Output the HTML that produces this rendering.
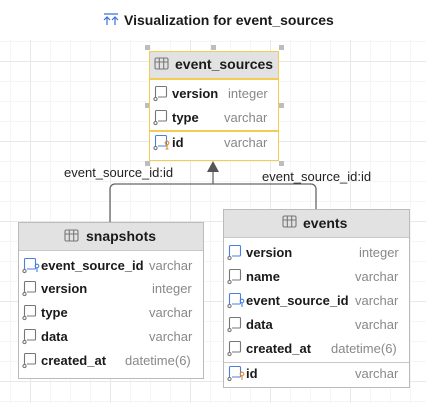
<!DOCTYPE html>
<html><head><style>
body{margin:0;width:426px;height:403px;overflow:hidden;background:#fff;font-family:"Liberation Sans",sans-serif;position:relative}
.grid{position:absolute;left:0;top:40px;width:426px;height:363px;
background-image:linear-gradient(#e8e8e8 1px,transparent 1px),linear-gradient(90deg,#e8e8e8 1px,transparent 1px),linear-gradient(#f5f5f5 1px,transparent 1px),linear-gradient(90deg,#f5f5f5 1px,transparent 1px);
background-size:80px 80px,80px 80px,20px 20px,20px 20px;background-position:0 21px,30px 0,0 1px,10px 0}
.t{position:absolute;font-size:13px;white-space:nowrap;line-height:16px}
.b{font-weight:bold;color:#1a1a1a}
.g{color:#888}
.box{position:absolute;background:#fff;border:1px solid #bbb;box-sizing:border-box}
.hd{position:absolute;left:0;right:0;top:0;background:#e2e2e2;border-bottom:1px solid #c8c8c8}
</style></head><body>
<div class="grid"></div>
<div class="t b" style="left:124px;top:12px;font-size:14px">Visualization for event_sources</div>
<svg style="position:absolute;left:0;top:0" width="426" height="403">
<g stroke="#3a6fd8" stroke-width="1.2" fill="none"><path d="M104 14h14M107 25v-8M104 20l3-3 3 3M115 25v-8M112 20l3-3 3 3"/></g>
<g stroke="#666" stroke-width="1.3" fill="none">
<path d="M213 172v12H115a5 5 0 0 0-5 5v33"/>
<path d="M213 184h98a5 5 0 0 1 5 5v20"/>
</g>
<path d="M207 172l6-11 6 11z" fill="#555"/>
<g fill="#bdbdbd"><rect x="145" y="45" width="5" height="5"/><rect x="211" y="45" width="5" height="5"/><rect x="279" y="45" width="5" height="5"/><rect x="145" y="103" width="5" height="5"/><rect x="279" y="103" width="5" height="5"/><rect x="145" y="161" width="5" height="5"/><rect x="279" y="161" width="5" height="5"/></g>
</svg>
<div class="t" style="left:64px;top:165px;color:#222">event_source_id:id</div>
<div class="t" style="left:262px;top:169px;color:#222">event_source_id:id</div>

<div class="box" style="left:149px;top:51px;width:130px;height:110px;border:1.5px solid #f2cc55">
<div class="hd" style="height:26px;border-bottom:2px solid #f2cc55"></div>
<div style="position:absolute;left:0;right:0;top:78px;border-top:2px solid #f2cc55"></div>
</div>
<div class="box" style="left:18px;top:222px;width:186px;height:157px"><div class="hd" style="height:27px"></div></div>
<div class="box" style="left:223px;top:209px;width:187px;height:179px"><div class="hd" style="height:27px"></div>
<div style="position:absolute;left:0;right:0;top:152px;border-top:1px solid #c8c8c8"></div></div>

<svg style="position:absolute;left:0;top:0" width="426" height="403" fill="none" stroke-width="1.1">
<defs>
<g id="tb" stroke="#777"><rect x="0" y="0" width="13" height="11" rx="1.5"/><path d="M0 4h13M4.3 0v11M8.7 0v11"/></g>
<g id="col" stroke="#777"><path d="M2.5 12V1.5a1 1 0 0 1 1-1h9a1 1 0 0 1 1 1v8.5a1 1 0 0 1-1 1H5"/><circle cx="2.5" cy="13" r="1.6"/></g>
<g id="colb" stroke="#4a7fe0"><path d="M2.5 12V1.5a1 1 0 0 1 1-1h9a1 1 0 0 1 1 1v8.5a1 1 0 0 1-1 1H5"/><circle cx="2.5" cy="13" r="1.6" stroke="#777"/></g>
</defs>
<use href="#tb" x="155" y="58"/><use href="#tb" x="65" y="230"/><use href="#tb" x="283" y="216"/>
<use href="#col" x="153" y="86"/><use href="#col" x="153" y="110"/><use href="#colb" x="153" y="135"/>
<path d="M167 144v5M165.5 149h3" stroke="#e08a2a"/><circle cx="167" cy="143" r="1.8" stroke="#e08a2a"/>
<use href="#colb" x="22" y="258"/><circle cx="37" cy="266" r="1.8" stroke="#4a7fe0"/><path d="M37 268v4" stroke="#4a7fe0"/>
<use href="#col" x="22" y="281"/><use href="#col" x="22" y="305"/><use href="#col" x="22" y="329"/><use href="#col" x="22" y="353"/>
<use href="#colb" x="227" y="245"/><use href="#col" x="227" y="269"/><use href="#colb" x="227" y="293"/><circle cx="242" cy="301" r="1.8" stroke="#4a7fe0"/><path d="M242 303v4" stroke="#4a7fe0"/>
<use href="#col" x="227" y="317"/><use href="#col" x="227" y="341"/><use href="#colb" x="227" y="366"/><circle cx="242" cy="374" r="1.8" stroke="#e08a2a"/><path d="M242 376v4" stroke="#e08a2a"/>
</svg>

<div class="t b" style="left:175px;top:56px;font-size:14px">event_sources</div>
<div class="t b" style="left:172px;top:86px">version</div><div class="t g" style="left:228px;top:86px">integer</div>
<div class="t b" style="left:172px;top:110px">type</div><div class="t g" style="left:224px;top:110px">varchar</div>
<div class="t b" style="left:172px;top:135px">id</div><div class="t g" style="left:224px;top:135px">varchar</div>

<div class="t b" style="left:86px;top:228px;font-size:14px">snapshots</div>
<div class="t b" style="left:41px;top:258px">event_source_id</div><div class="t g" style="left:149px;top:258px">varchar</div>
<div class="t b" style="left:41px;top:281px">version</div><div class="t g" style="left:152px;top:281px">integer</div>
<div class="t b" style="left:41px;top:305px">type</div><div class="t g" style="left:149px;top:305px">varchar</div>
<div class="t b" style="left:41px;top:329px">data</div><div class="t g" style="left:149px;top:329px">varchar</div>
<div class="t b" style="left:41px;top:353px">created_at</div><div class="t g" style="left:125px;top:353px">datetime(6)</div>

<div class="t b" style="left:303px;top:215px;font-size:14px">events</div>
<div class="t b" style="left:246px;top:245px">version</div><div class="t g" style="left:359px;top:245px">integer</div>
<div class="t b" style="left:246px;top:269px">name</div><div class="t g" style="left:355px;top:269px">varchar</div>
<div class="t b" style="left:246px;top:293px">event_source_id</div><div class="t g" style="left:355px;top:293px">varchar</div>
<div class="t b" style="left:246px;top:317px">data</div><div class="t g" style="left:355px;top:317px">varchar</div>
<div class="t b" style="left:246px;top:341px">created_at</div><div class="t g" style="left:331px;top:341px">datetime(6)</div>
<div class="t b" style="left:246px;top:366px">id</div><div class="t g" style="left:355px;top:366px">varchar</div>
</body></html>
